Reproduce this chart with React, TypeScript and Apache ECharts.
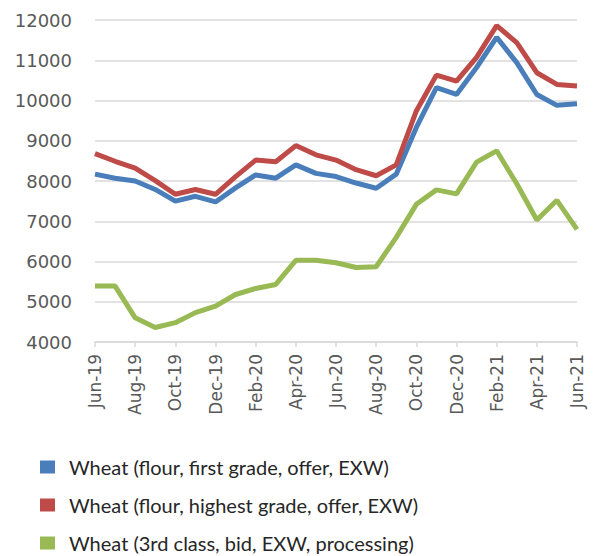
import React, { useEffect, useRef } from "react";
import * as echarts from "echarts";

const months = [
  "Jun-19", "Jul-19", "Aug-19", "Sep-19", "Oct-19", "Nov-19", "Dec-19",
  "Jan-20", "Feb-20", "Mar-20", "Apr-20", "May-20", "Jun-20", "Jul-20",
  "Aug-20", "Sep-20", "Oct-20", "Nov-20", "Dec-20", "Jan-21", "Feb-21",
  "Mar-21", "Apr-21", "May-21", "Jun-21",
];

const firstGrade = [
  8170, 8070, 8000, 7790, 7500, 7620, 7480, 7830, 8150, 8070, 8400, 8190, 8110,
  7950, 7820, 8170, 9330, 10320, 10150, 10820, 11570, 10940, 10150, 9880, 9920,
];

const highestGrade = [
  8680, 8490, 8320, 8010, 7670, 7790, 7670, 8110, 8520, 8480, 8880, 8650, 8520,
  8280, 8130, 8400, 9740, 10630, 10480, 11070, 11860, 11440, 10690, 10400, 10360,
];

const thirdClass = [
  5390, 5390, 4600, 4360, 4480, 4730, 4890, 5180, 5330, 5430, 6030, 6030, 5970,
  5850, 5870, 6600, 7420, 7780, 7680, 8470, 8750, 7930, 7030, 7520, 6800,
];

const seriesNames = [
  "Wheat (flour, first grade, offer, EXW)",
  "Wheat (flour, highest grade, offer, EXW)",
  "Wheat (3rd class, bid, EXW, processing)",
];

const colors = ["#4A7EBB", "#BE4B48", "#98B954"];

export default function App() {
  const ref = useRef<HTMLDivElement>(null);
  useEffect(() => {
    if (!ref.current) return;
    const chart = echarts.init(ref.current, null, { renderer: "svg" });
    const data = [firstGrade, highestGrade, thirdClass];
    chart.setOption({
      animation: false,
      color: colors,
      grid: { left: 95, right: 25, top: 20, bottom: 214, containLabel: false },
      legend: {
        orient: "vertical",
        left: 35,
        top: 452,
        height: 120,
        itemGap: 18,
        itemWidth: 15,
        itemHeight: 13,
        icon: "rect",
        textStyle: { fontFamily: "Lato", fontSize: 20, color: "#262626", padding: [0, 0, 0, 9] },
        data: seriesNames,
      },
      xAxis: {
        type: "category",
        data: months,
        boundaryGap: false,
        axisLine: { lineStyle: { color: "#D9D9D9", width: 1.5 } },
        axisTick: { interval: 1, length: 5, lineStyle: { color: "#D9D9D9", width: 1.5 } },
        axisLabel: {
          interval: 1,
          rotate: 90,
          margin: 12,
          fontFamily: "DejaVu Sans",
          fontSize: 17,
          color: "#595959",
        },
      },
      yAxis: {
        type: "value",
        min: 4000,
        max: 12000,
        interval: 1000,
        axisLine: { show: false },
        axisTick: { show: false },
        splitLine: { lineStyle: { color: "#D9D9D9", width: 1.5 } },
        axisLabel: {
          margin: 23,
          fontFamily: "DejaVu Sans",
          fontSize: 18,
          color: "#595959",
          formatter: (v: number) => String(v),
        },
      },
      series: seriesNames.map((name, i) => ({
        name,
        type: "line",
        data: data[i],
        symbol: "none",
        lineStyle: { width: 5, color: colors[i] },
      })),
    });
    return () => chart.dispose();
  }, []);
  return (
    <div
      ref={ref}
      style={{ position: "absolute", left: 0, top: 0, width: 602, height: 556 }}
    />
  );
}
